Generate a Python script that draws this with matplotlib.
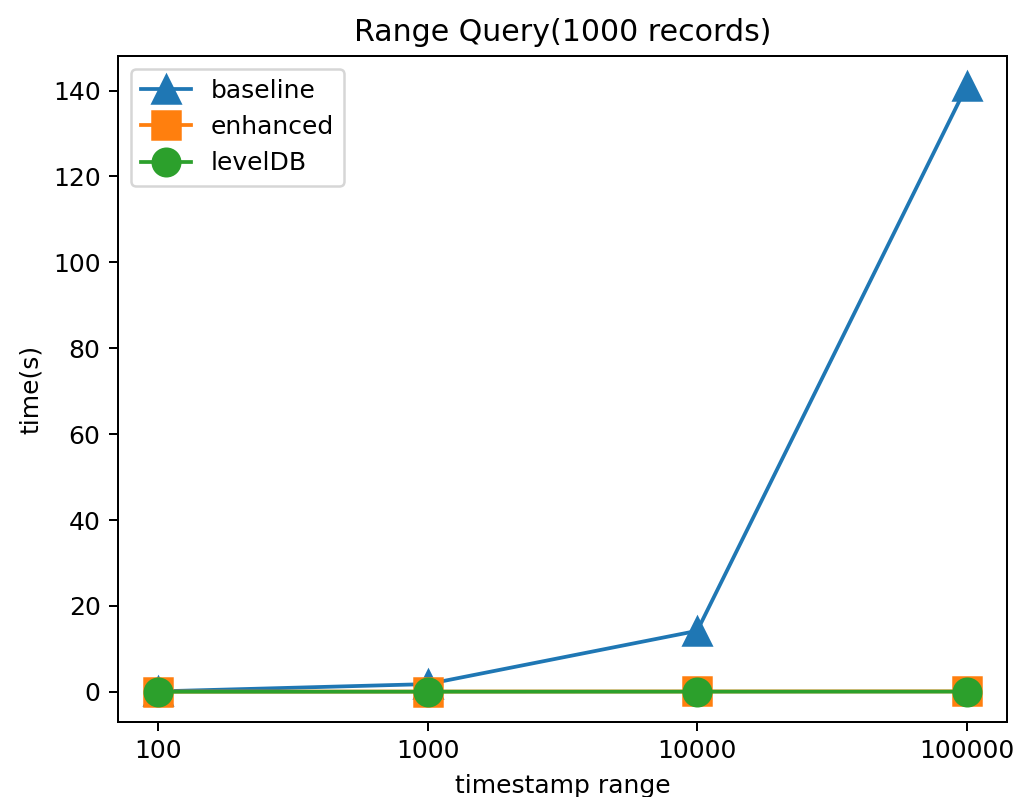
import numpy as np
import matplotlib.pyplot as plt

ranges = ['100', '1000', '10000', '100000']
baseline = [0.1, 1.8, 14.2, 141.0]
enhanced = [0.05, 0.06, 0.08, 0.1]
leveldb = [0.02, 0.03, 0.04, 0.05]

x = np.arange(len(ranges))

fig = plt.figure(figsize=(1016 / 180, 797 / 180), dpi=180)
ax = fig.add_axes([118 / 1016, 1 - 722 / 797, 889 / 1016, 666 / 797])

ax.plot(x, baseline, marker='^', markersize=11, label='baseline')
ax.plot(x, enhanced, marker='s', markersize=11, label='enhanced')
ax.plot(x, leveldb, marker='o', markersize=11, label='levelDB')

ax.set_xticks(x)
ax.set_xticklabels(ranges)
ax.set_xlabel('timestamp range')
ax.set_ylabel('time(s)')
ax.set_title('Range Query(1000 records)')
ax.legend(loc='upper left')

fig.savefig('out.png', dpi=180)
